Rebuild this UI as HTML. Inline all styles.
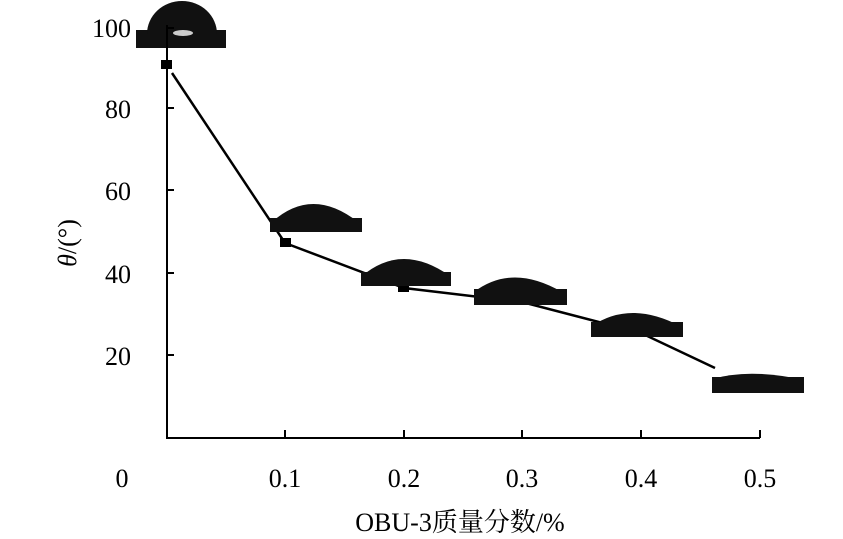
<!DOCTYPE html>
<html><head><meta charset="utf-8"><style>
body{margin:0;background:#fff;}
svg{display:block;font-family:"Liberation Serif","Noto Serif CJK SC",serif;}
</style></head><body>
<svg width="843" height="539" viewBox="0 0 843 539">
<g stroke="#000" stroke-width="2" fill="none">
<line x1="167" y1="25" x2="167" y2="438"/>
<line x1="166" y1="438" x2="760" y2="438"/>
<line x1="167" y1="108" x2="174" y2="108"/>
<line x1="167" y1="190" x2="174" y2="190"/>
<line x1="167" y1="273" x2="174" y2="273"/>
<line x1="167" y1="355" x2="174" y2="355"/>
<line x1="285" y1="438" x2="285" y2="430"/>
<line x1="404" y1="438" x2="404" y2="430"/>
<line x1="522" y1="438" x2="522" y2="430"/>
<line x1="641" y1="438" x2="641" y2="430"/>
<line x1="760" y1="438" x2="760" y2="430"/>
</g>
<polyline points="172,73 285,243 404,288 522,302 641,333 715,368" stroke="#000" stroke-width="2.5" fill="none"/>
<rect x="161" y="60" width="11" height="9" fill="#000"/>
<rect x="280" y="238" width="11" height="9" fill="#000"/>
<rect x="398" y="283" width="11" height="9" fill="#000"/>
<g fill="#111">
<rect x="136" y="0" width="90" height="48" fill="#fff"/>
<rect x="136" y="30" width="90" height="18"/>
<path d="M147,40 L147,34 A35,33 0 0 1 217,34 L217,40 Z"/>
<ellipse cx="183" cy="33" rx="10" ry="3" fill="#ccc"/>
<rect x="270" y="218" width="92" height="14"/>
<path d="M272,222 Q312,186 358,222 Z"/>
<rect x="361" y="272" width="90" height="14"/>
<path d="M362,276 Q402,242 450,276 Z"/>
<rect x="474" y="289" width="93" height="16"/>
<path d="M474,292 Q512,263 562,292 Z"/>
<rect x="591" y="322" width="92" height="15"/>
<path d="M592,326 Q630,300 680,326 Z"/>
<rect x="712" y="377" width="92" height="16"/>
<path d="M712,379 Q750,368 804,380 Z"/>
</g>
<line x1="167" y1="25" x2="167" y2="48" stroke="#000" stroke-width="2"/>
<line x1="167" y1="28" x2="174" y2="28" stroke="#000" stroke-width="2"/>
<g font-size="26" fill="#000" text-anchor="end">
<text x="131" y="37">100</text>
<text x="131" y="118">80</text>
<text x="131" y="200">60</text>
<text x="131" y="283">40</text>
<text x="131" y="365">20</text>
</g>
<g font-size="26" fill="#000" text-anchor="middle">
<text x="122" y="487">0</text>
<text x="285" y="487">0.1</text>
<text x="404" y="487">0.2</text>
<text x="522" y="487">0.3</text>
<text x="641" y="487">0.4</text>
<text x="760" y="487">0.5</text>
<text x="460" y="531">OBU-3质量分数/%</text>
</g>
<text transform="translate(76,243) rotate(-90)" font-size="26" text-anchor="middle"><tspan font-style="italic">θ</tspan>/(°)</text>
</svg>
</body></html>
